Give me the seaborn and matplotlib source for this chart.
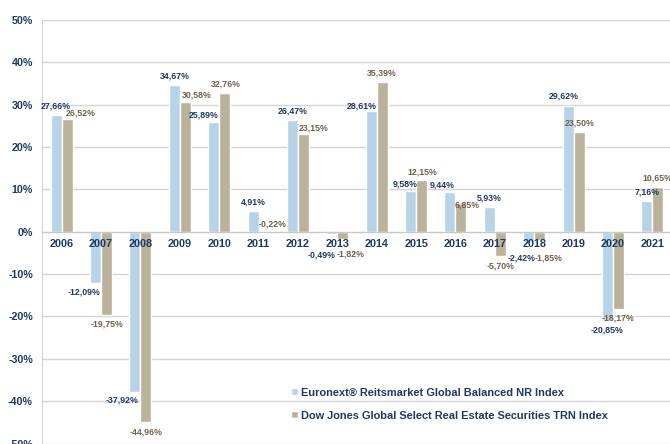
import numpy as np
import pandas as pd
import matplotlib
matplotlib.use('Agg')
import matplotlib.pyplot as plt
import seaborn as sns

# !! Dados !!
anos = ['2006', '2007', '2008', '2009', '2010', '2011', '2012', '2013',
        '2014', '2015', '2016', '2017', '2018', '2019', '2020', '2021']
euronext = [27.66, -12.09, -37.92, 34.67, 25.89, 4.91, 26.47, -0.49,
            28.61, 9.58, 9.44, 5.93, -2.42, 29.62, -20.85, 7.16]
dowjones = [26.52, -19.75, -44.96, 30.58, 32.76, -0.22, 23.15, -1.82,
            35.39, 12.15, 6.85, -5.70, -1.85, 23.50, -18.17, 10.65]
nomes = ['Euronext® Reitsmarket Global Balanced NR Index',
         'Dow Jones Global Select Real Estate Securities TRN Index']
yticks = [-50, -40, -30, -20, -10, 0, 10, 20, 30, 40, 50]

# deslocamento dos rótulos (pixels) em relação ao fim de cada barra
dx_euro = [0, -12, -13, 0, -10, 0, 0, -10, -9, -5, -8, 0, -7, -4, 0, 0]
dy_euro = [9, -9, -8, 9, 7, 9, 9, -21, 5, 7, 7, 9, -16, 10, -10, 9]
dx_dow = [13, 0, 0, 11, 1, 8, 10, 8, 0, 1, 6, 0, 9, 1, 0, 0]
dy_dow = [6, -9, -10, 7, 9, 9, 6, -15, 9, 8, -2, -10, -18, 9, -9, 9]

azul = '#B8D2E7'
bege = '#BAB29A'
navy = '#1E3A64'
marrom = '#6E624A'
cinza = '#D4D4D4'

df = pd.DataFrame({
    'ano': anos * 2,
    'valor': euronext + dowjones,
    'indice': [nomes[0]] * len(anos) + [nomes[1]] * len(anos),
})

sns.set_style('white')
plt.rcParams['font.family'] = ['Liberation Sans', 'DejaVu Sans']

fig = plt.figure(figsize=(6.7, 4.44), dpi=100)
ax = fig.add_axes([42 / 670, 0.5 / 444, 630 / 670, 423.5 / 444])

sns.barplot(data=df, x='ano', y='valor', hue='indice', palette=[azul, bege],
            width=0.56, saturation=1, dodge=True, ax=ax, legend=True)

ax.set_xlim(-0.5, 15.5)
ax.set_ylim(-50, 50)
ax.set_yticks(yticks)
ax.set_yticklabels([f'{v}%' for v in yticks], fontsize=7.7,
                   fontweight='bold', color=navy)
ax.set_xlabel('')
ax.set_ylabel('')

ax.set_axisbelow(True)
ax.yaxis.grid(True, color=cinza, lw=1)
ax.tick_params(axis='y', length=3, color=cinza, pad=3.5)

for s in ['top', 'right']:
    ax.spines[s].set_visible(False)
ax.spines['left'].set_color(cinza)
ax.spines['bottom'].set_position(('data', 0))
ax.spines['bottom'].set_color('#C8C8C8')

# marcas entre categorias na linha do zero
ax.set_xticks(range(len(anos)))
ax.set_xticklabels([])
ax.tick_params(axis='x', which='major', length=0)
ax.set_xticks(np.arange(-0.5, len(anos), 1), minor=True)
ax.tick_params(axis='x', which='minor', length=3, color='#C8C8C8', direction='out')

for i, a in enumerate(anos):
    ax.annotate(a, (i, 0), xytext=(0, -12), textcoords='offset pixels',
                ha='center', va='center', fontsize=7.8, fontweight='bold',
                color=navy, zorder=5)

# rótulos dos valores
series = [(euronext, dx_euro, dy_euro, navy), (dowjones, dx_dow, dy_dow, marrom)]
for cont, (vals, dxs, dys, cor) in zip(ax.containers, series):
    for bar, v, dx, dy in zip(cont, vals, dxs, dys):
        xc = bar.get_x() + bar.get_width() / 2
        ax.annotate(f'{v:.2f}%'.replace('.', ','), (xc, v),
                    xytext=(dx, dy), textcoords='offset pixels',
                    ha='center', va='center', fontsize=6.3,
                    fontweight='bold', color=cor, zorder=6)

handles, labels = ax.get_legend_handles_labels()
ax.legend(handles, labels, loc='upper left', bbox_to_anchor=(286 / 670, 1 - 382 / 444),
          bbox_transform=fig.transFigure, frameon=False, handlelength=0.55,
          handleheight=0.55, handletextpad=0.35, labelspacing=1.2, borderpad=0,
          prop={'size': 7.9, 'weight': 'bold'}, labelcolor=navy)

fig.savefig('out.png', dpi=100)
